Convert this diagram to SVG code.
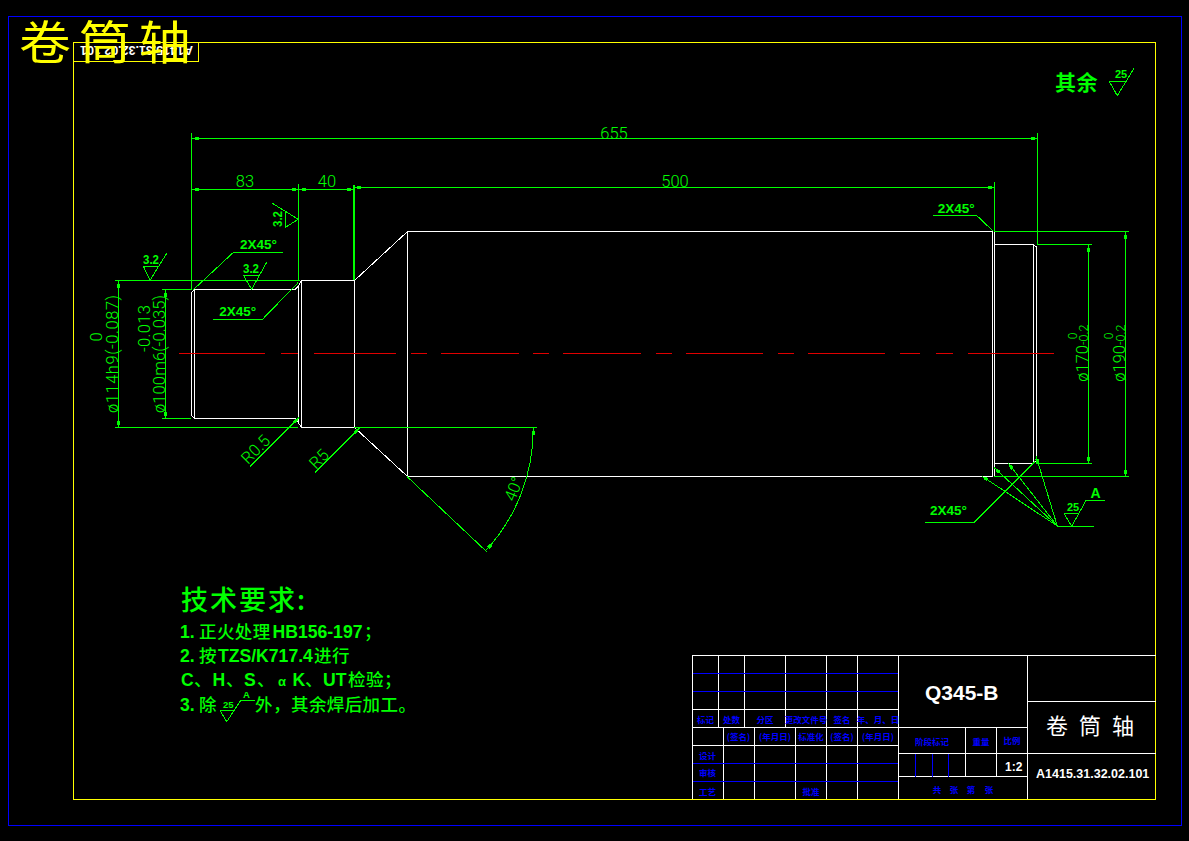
<svg xmlns="http://www.w3.org/2000/svg" width="1189" height="841" viewBox="0 0 1189 841">
<style>
svg{shape-rendering:crispEdges}
text{font-family:"Liberation Sans","Noto Sans CJK SC",sans-serif}
.g{stroke:#0f0;fill:none;stroke-width:1}
.gb{stroke:#0f0;fill:none;stroke-width:2}
.w{stroke:#fff;fill:none;stroke-width:1}
.b{stroke:#00f;fill:none;stroke-width:1}
.dim{fill:#0f0;font-family:Roboto,"Liberation Sans",sans-serif;font-weight:300;font-size:16.5px}
.gt{fill:#0f0;font-weight:bold}
.bt{fill:#00f;font-weight:bold;font-size:8.5px;text-anchor:middle;font-family:"Noto Sans CJK SC",sans-serif}
.cjk{font-family:"Noto Sans CJK SC",sans-serif}
.n{font-weight:500;font-size:17.5px;letter-spacing:.4px;font-family:"Noto Sans CJK SC",sans-serif}
.wt{fill:#fff}
</style>
<defs>
<marker id="a" markerUnits="userSpaceOnUse" markerWidth="5" markerHeight="4" refX="7" refY="1.5" orient="auto-start-reverse"><rect width="4" height="3" fill="#0f0"/></marker>
</defs>
<rect width="1189" height="841" fill="#000"/>
<g id="frame">
<rect x="8.5" y="16.5" width="1173" height="808.5" fill="none" stroke="#00f"/>
<rect x="73.5" y="42.5" width="1082" height="757" fill="none" stroke="#ff0"/>
</g>
<g id="corner-box">
<rect x="73.5" y="42.5" width="124.5" height="19" fill="none" stroke="#ff0"/>
<text class="wt" font-weight="bold" font-size="12.5" transform="translate(193 45.5) rotate(180)" textLength="113">A1415.31.32.02.101</text>
</g>
<g id="shaft" class="w">
<path d="M194.5 289.5H295L298.5 286V422L295 418.5H194.5L191.5 415.5V292.5L194.5 289.5V418.5M298.5 286L301.5 280.5H354.5L407.5 231.5H992.5V476.5H407.5L354.5 427.5H301.5L298.5 423M301.5 280.5V427.5M354.5 280.5V427.5M407.5 231.5V476.5M994.5 231.5V476.5M994.5 244.5H1033.5L1036.5 247V460.5L1033.5 463.5H994.5M1033.5 244.5V463.5"/>
</g>
<path id="centerline" d="M179 353.5H265M281 353.5H298M314 353.5H396M411 353.5H427M441 353.5H518.5M533 353.5H549M563 353.5H641M656 353.5H672M686 353.5H763M778 353.5H794M808 353.5H885M900 353.5H920M936 353.5H953M968 353.5H1054" stroke="#e00000" stroke-width="1" fill="none"/>
<g id="connectors">
<g class="g">
<path d="M191.5 133V290M1037.5 133V245M298.5 184V280.5M994.5 182V231.5"/>
<path class="gb" d="M354 185V280"/>
<path d="M191.5 138.5H1037.5" marker-start="url(#a)" marker-end="url(#a)"/>
<path d="M191.5 189.5H298.5" marker-start="url(#a)" marker-end="url(#a)"/>
<path d="M298.5 189.5H354" marker-start="url(#a)" marker-end="url(#a)"/>
<path d="M354 187.5H994.5" marker-start="url(#a)" marker-end="url(#a)"/>
<path d="M115 280.5H300M115 427.5H298M162 289.5H191M162 418.5H191"/>
<path d="M118.5 280.5V427.5" marker-start="url(#a)" marker-end="url(#a)"/>
<path d="M165.5 289.5V418.5" marker-start="url(#a)" marker-end="url(#a)"/>
<path d="M1037 244.5H1091.5M1036 463.5H1091.5M994 231.5H1129M994 476.5H1129"/>
<path d="M1088.5 244.5V463.5" marker-start="url(#a)" marker-end="url(#a)"/>
<path d="M1125.5 231.5V476.5" marker-start="url(#a)" marker-end="url(#a)"/>
<path d="M282.7 252.5H233.3L193 290M213.3 319.5H262.3L298 282.7"/>
<path d="M933 215.5H976.7L993 231M925 522.5H974L1035 461.7"/>
<path d="M250 466.7L299 417.5" marker-end="url(#a)"/>
<path d="M315 472.7L359.5 428" marker-end="url(#a)"/>
<path d="M354 427.5H536.7M407 476.5L486.7 551.7"/>
<path d="M533.3 428A180 180 0 0 1 486.3 550" marker-start="url(#a)" marker-end="url(#a)"/>
<path d="M1057.3 526L981.7 476" marker-end="url(#a)"/>
<path d="M1057.3 526L994.3 467.7" marker-end="url(#a)"/>
<path d="M1057.3 526L1008.3 463.3" marker-end="url(#a)"/>
<path d="M1057.3 526L1036 456" marker-end="url(#a)"/>
<path d="M1057.3 526.5H1094"/>
</g>
</g>
<g id="roughness" class="g">
<path d="M143.5 266.5H159M143.5 266.5L150 280.3L166.7 253.3"/>
<path d="M243.5 275.5H259M243.5 275.5L251.7 289.3L266.7 262.3"/>
<path d="M285.5 210.7V227.3L298.3 219.3L272.3 203.3"/>
<path d="M1064 513.5H1079M1064 513.5L1071.7 526.3L1086 500.5H1105"/>
<path d="M1109.3 81.5H1125M1109.3 81.5L1117.3 95.7L1134 68.3"/>
<path d="M220 710.5H235M220 710.5L226.7 721.7L240.7 700.5H255"/>
</g>
<g id="dimension-text">
<text class="dim" x="614" y="139" text-anchor="middle">655</text>
<text class="dim" x="245" y="187" text-anchor="middle">83</text>
<text class="dim" x="327" y="187" text-anchor="middle">40</text>
<text class="dim" x="675" y="187" text-anchor="middle">500</text>
<text class="dim" transform="translate(117.5 413) rotate(-90)" textLength="118">ø114h9(-0.087)</text>
<text class="dim" transform="translate(164.5 413) rotate(-90)" textLength="118">ø100m6(-0.035)</text>
<text class="dim" text-anchor="middle" transform="translate(102 337) rotate(-90)">0</text>
<text class="dim" transform="translate(150 352) rotate(-90)" textLength="47">-0.013</text>
<text class="dim" transform="translate(1087.5 381.7) rotate(-90)">ø170<tspan style="font-size:12.5px">-0.2</tspan></text>
<text class="dim" transform="translate(1124.5 381.7) rotate(-90)">ø190<tspan style="font-size:12.5px">-0.2</tspan></text>
<text class="dim" style="font-size:12px" text-anchor="middle" transform="translate(1077 336) rotate(-90)">0</text>
<text class="dim" style="font-size:12px" text-anchor="middle" transform="translate(1113 336) rotate(-90)">0</text>
<text class="dim" transform="translate(248 465) rotate(-45)">R0.5</text>
<text class="dim" transform="translate(316 470) rotate(-45)">R5</text>
<text class="dim" text-anchor="middle" transform="translate(519 491) rotate(-68)">40°</text>
<g class="gt" font-size="13.5">
<text x="240" y="249">2X45°</text>
<text x="219.3" y="316">2X45°</text>
<text x="937.7" y="213">2X45°</text>
<text x="930" y="515">2X45°</text>
<text x="143" y="264" textLength="16" lengthAdjust="spacingAndGlyphs">3.2</text>
<text x="243" y="273" textLength="16" lengthAdjust="spacingAndGlyphs">3.2</text>
<text transform="translate(282 227) rotate(-90)" textLength="16" lengthAdjust="spacingAndGlyphs">3.2</text>
</g>
<g class="gt" font-size="11">
<text x="1067" y="510.7">25</text>
<text x="1115" y="77.7">25</text>
<text x="223" y="707.7" font-size="9.5">25</text>
<text x="1090.5" y="498" font-size="14">A</text>
<text x="243" y="698" font-size="9.5">A</text>
</g>
<text class="cjk gt" x="1055" y="90" font-size="21" letter-spacing="0.5">其余</text>
</g>
<g id="notes" fill="#0f0">
<text class="cjk" x="181" y="609.5" font-size="27" font-weight="500" letter-spacing="2">技术要求:</text>
<g font-size="17.6" font-weight="bold">
<text x="180" y="637.5">1. <tspan class="n" x="199">正火处理</tspan><tspan x="272.5">HB156-197</tspan><tspan class="n" x="364">；</tspan></text>
<text x="180" y="661.7">2. <tspan class="n" x="199">按</tspan><tspan x="218">TZS/K717.4</tspan><tspan class="n" x="314">进行</tspan></text>
<text y="685.7"><tspan x="181">C</tspan><tspan class="n" x="194">、</tspan><tspan x="212.5">H</tspan><tspan class="n" x="226">、</tspan><tspan x="244">S</tspan><tspan class="n" x="257">、</tspan><tspan x="278" font-size="13">α</tspan><tspan x="292.5">K</tspan><tspan class="n" x="305">、</tspan><tspan x="323">UT</tspan><tspan class="n" x="348">检验</tspan><tspan class="n" x="384">；</tspan></text>
<text x="180" y="711">3. <tspan class="n" x="199">除</tspan><tspan class="n" x="255">外，</tspan><tspan class="n" x="291">其余焊后加工。</tspan></text>
</g>
</g>
<g id="title-block">
<g class="w">
<path d="M692.5 799V655.5H1156M692.5 709.5H898M692.5 727.5H1027M692.5 745.5H898M718.5 655.5V727.5M744.5 655.5V727.5M785.5 655.5V727.5M826.5 655.5V799M857.5 655.5V799M898.5 655.5V799M723.5 727.5V799M754.5 727.5V799M795.5 727.5V799M1027.5 655.5V799M898 753.5H1156M965.5 727.5V776.5M996.5 727.5V776.5M898 776.5H1027M1027 701.5H1156"/>
</g>
<path class="b" d="M692.5 673.5H898M692.5 691.5H898M692.5 763.5H898M692.5 781.5H898M915.5 753.5V776.5M932.5 753.5V776.5M948.5 753.5V776.5"/>
<g>
<text class="bt" x="705.5" y="722.5">标记</text><text class="bt" x="731.5" y="722.5">处数</text><text class="bt" x="765" y="722.5">分区</text><text class="bt" x="806" y="722.5">更改文件号</text><text class="bt" x="842" y="722.5">签名</text><text class="bt" x="878" y="722.5">年、月、日</text>
<text class="bt" x="738.5" y="740">(签名)</text><text class="bt" x="775" y="740">(年月日)</text><text class="bt" x="811" y="740">标准化</text><text class="bt" x="842" y="740">(签名)</text><text class="bt" x="878" y="740">(年月日)</text>
<text class="bt" x="707.5" y="759">设计</text><text class="bt" x="707.5" y="776">审核</text><text class="bt" x="707.5" y="794.5">工艺</text><text class="bt" x="811" y="794.5">批准</text>
<text class="bt" x="932" y="744.5">阶段标记</text><text class="bt" x="981" y="744.5">重量</text><text class="bt" x="1012" y="744">比例</text>
<text class="bt" y="792.5"><tspan x="937">共</tspan><tspan x="954">张</tspan><tspan x="971">第</tspan><tspan x="989">张</tspan></text>
</g>
<text class="wt" x="925" y="700" font-size="21" font-weight="bold">Q345-B</text>
<text class="wt cjk" y="734" font-size="22"><tspan x="1046">卷</tspan><tspan x="1079">筒</tspan><tspan x="1112">轴</tspan></text>
<text class="wt" x="1036" y="778" font-size="12.5" font-weight="bold">A1415.31.32.02.101</text>
<text class="wt" x="1005" y="771" font-size="12" font-weight="bold">1:2</text>
</g>
<g id="title" fill="#ff0">
<text class="cjk" transform="translate(19 59) scale(1.13 1)" font-size="46"><tspan x="0">卷</tspan><tspan x="53">筒</tspan><tspan x="106">轴</tspan></text>
</g>
</svg>
